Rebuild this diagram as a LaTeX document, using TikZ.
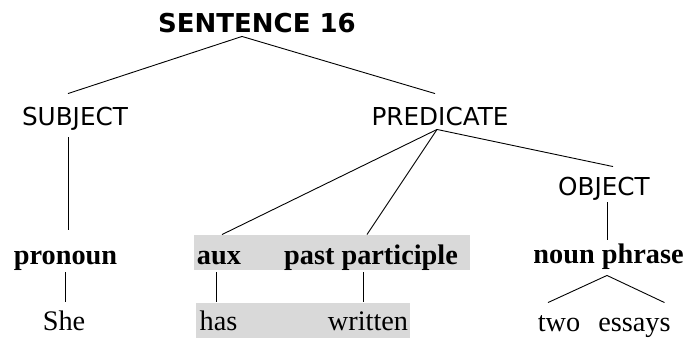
\documentclass[tikz,border=0pt]{standalone}
\usepackage{fontspec}
\setmainfont{Liberation Serif}
\newfontfamily\tahoma{DejaVu Sans}
\usepackage{tikz}
\definecolor{boxgray}{RGB}{217,217,217}

\begin{document}
\begin{tikzpicture}[x=1pt, y=-1pt, line width=0.9pt,
        title/.style = {font = {\tahoma\bfseries\fontsize{26}{30}\selectfont}, anchor=base, inner sep=0pt, text height=20pt, text depth=4pt},
        role/.style = {font = {\tahoma\fontsize{24.7}{30}\selectfont}, anchor=base, inner sep=0pt, text height=31pt, text depth=7pt},
        cat/.style = {font = {\bfseries\fontsize{28.3}{34}\selectfont}, anchor=base, inner sep=0pt, text height=29pt, text depth=8pt},
        word/.style = {font = {\fontsize{28.3}{34}\selectfont}, anchor=base, inner sep=0pt, text height=28pt, text depth=0pt}]
        \useasboundingbox (0, 0) rectangle (689, 338);

        % shaded verb group
        \fill[boxgray] (194, 235) rectangle (470, 270);
        \fill[boxgray] (196, 303) rectangle (410, 338);

        \node[title] (sent) at (257, 32) {SENTENCE 16};

        \node[role] (subj) at (75, 125) {SUBJECT};
        \node[role] (pred) at (440, 125) {PREDICATE};
        \node[role] (obj) at (604, 195) {OBJECT};

        \node[cat] (pron) at (65.5, 264) {pronoun};
        \node[cat] (aux) at (219, 264) {aux};
        \node[cat] (pp) at (371, 264) {past participle};
        \node[cat] (np) at (608.5, 263) {noun phrase};

        \node[word] (she) at (64, 330) {She};
        \node[word] (has) at (218.5, 330) {has};
        \node[word] (wr) at (368, 330) {written};
        \node[word] (two) at (559, 331) {two};
        \node[word] (ess) at (634.5, 331) {essays};

        \coordinate (sentfork) at ([xshift=-15pt]sent.south);
        \coordinate (predfork) at ([xshift=-3pt, yshift=3pt]pred.south);
        \coordinate (npfork) at ([xshift=-1.5pt, yshift=-4pt]np.south);

        \draw (sentfork) -- ([xshift=-7pt]subj.north);
        \draw (sentfork) -- ([xshift=-5pt]pred.north);

        \draw ([xshift=-7pt, yshift=-5pt]subj.south) -- ([xshift=2.5pt, yshift=5pt]pron.north);
        \draw (pron.south) -- (pron.south |- she.north);

        \draw (predfork) -- ([xshift=3pt]aux.north);
        \draw (predfork) -- ([xshift=-4pt]pp.north);
        \draw (predfork) -- ([xshift=9pt, yshift=-3pt]obj.north);

        \draw ([xshift=-3pt]aux.south) -- ([xshift=-3pt]aux.south |- has.north);
        \draw ([xshift=-8pt]pp.south) -- ([xshift=-8pt]pp.south |- wr.north);

        \draw ([xshift=3pt]obj.south) -- ([xshift=-1.5pt, yshift=-6pt]np.north);
        \draw (npfork) -- ([xshift=-11pt]two.north);
        \draw (npfork) -- ([xshift=30pt]ess.north);
    \end{tikzpicture}
\end{document}
